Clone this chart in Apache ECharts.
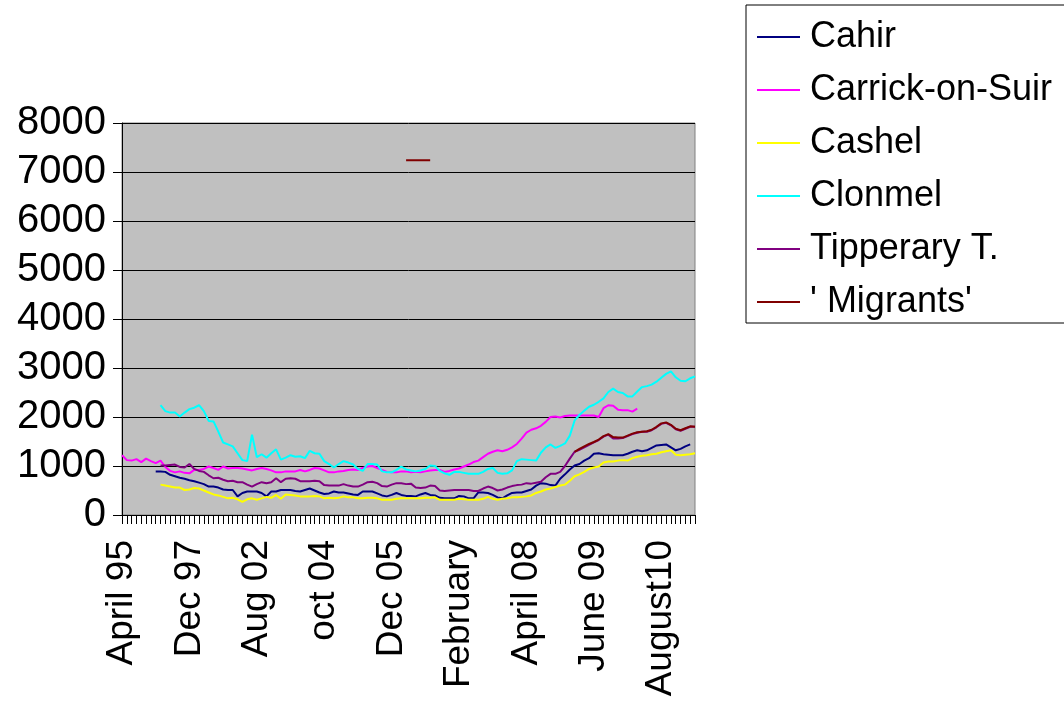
<!DOCTYPE html>
<html>
<head>
    <meta charset="utf-8">
    <title>Tipperary towns</title>
    <script src="https://cdn.jsdelivr.net/npm/echarts@6/dist/echarts.min.js"></script>
    <style>
        html, body { margin: 0; padding: 0; background: #fff; }
        #container { width: 1064px; height: 702px; }
    </style>
</head>
<body>
<div id="container"></div>
<script>
// labels shown on the category axis, one every 14 points
var tickLabels = ['April 95', 'Dec 97', 'Aug 02', 'oct 04', 'Dec 05', 'February', 'April 08', 'June 09', 'August10'];
var labelStep = 14;
var pointCount = 120;

var seriesNames = ['Cahir', 'Carrick-on-Suir', 'Cashel', 'Clonmel', 'Tipperary T.', "' Migrants'"];

var cahir = [
    null, null, null, null, null, null, null,
    890, 890, 880, 820, 790, 760, 740, 710, 690, 660, 630, 580, 580, 560,
    520, 510, 510, 380, 450, 480, 480, 480, 450, 380, 480, 480, 510, 510,
    510, 490, 480, 510, 540, 500, 460, 430, 440, 480, 460, 460, 440, 420,
    410, 480, 480, 480, 440, 400, 380, 410, 450, 410, 390,
    390, 380, 420, 450, 410, 400, 350, 340, 340, 340, 390, 380, 340, 340,
    460, 460, 450, 410, 360, 340, 400, 450, 460, 460, 490, 520, 600, 650,
    640, 610, 600, 740, 830, 930, 1010, 1040, 1110, 1160, 1250, 1260, 1240, 1230,
    1220, 1220, 1220, 1250, 1290, 1320, 1300, 1320, 1370, 1420, 1430, 1440, 1380, 1320,
    1350, 1400, 1440, null
];

var carrick = [
    1220, 1120, 1110, 1140, 1080, 1150, 1100, 1060, 1110, 980, 900, 870, 890, 860,
    850, 920, 920, 940, 990, 960, 920, 990, 950, 960, 960, 950, 930, 910,
    940, 960, 940, 910, 870, 870, 890, 890, 890, 920, 890, 920, 960, 950,
    910, 870, 870, 890, 900, 920, 930, 920, 960, 990, 1000, 960, 920, 880,
    870, 870, 890, 890,
    870, 880, 870, 890, 910, 920, 920, 880, 900, 930, 950, 990, 1030, 1080,
    1110, 1180, 1250, 1290, 1320, 1300, 1330, 1380, 1450, 1560, 1680, 1740, 1770, 1820,
    1900, 2000, 2010, 1990, 2020, 2030, 2030, 2030, 2030, 2030, 2030, 2000, 2180, 2240,
    2230, 2150, 2140, 2140, 2110, 2170,
    null, null, null, null, null, null, null, null, null, null, null, null
];

var cashel = [
    null, null, null, null, null, null, null, null,
    620, 600, 580, 560, 560, 510, 520, 550, 540, 500, 460, 420, 400, 370,
    340, 350, 320, 270, 320, 340, 310, 340, 370, 350, 410, 330, 420, 410,
    400, 380, 380, 380, 390, 380, 340, 350, 340, 350, 380, 360, 360, 340,
    340, 350, 350, 340, 310, 310, 310, 330, 340, 340,
    340, 340, 340, 350, 350, 360, 310, 310, 310, 310, 330, 320, 310, 310,
    310, 330, 370, 330, 310, 330, 340, 360, 360, 370, 380, 400, 450, 480,
    520, 540, 570, 600, 620, 700, 790, 830, 880, 940, 970, 990, 1070, 1090,
    1090, 1110, 1120, 1110, 1160, 1190, 1210, 1220, 1240, 1250, 1280, 1300, 1320, 1230,
    1220, 1230, 1240, 1260
];

var clonmel = [
    null, null, null, null, null, null, null, null,
    2240, 2120, 2090, 2090, 2010, 2090, 2160, 2190, 2240, 2120, 1920, 1910, 1700, 1480,
    1440, 1400, 1260, 1120, 1100, 1640, 1180, 1240, 1170, 1260, 1340, 1130, 1170, 1220,
    1190, 1200, 1160, 1310, 1260, 1250, 1100, 1040, 970, 1040, 1100, 1070, 1030, 940,
    900, 1040, 1040, 1030, 890, 870, 870, 920, 990, 930,
    910, 890, 910, 940, 1010, 1000, 900, 850, 820, 880, 880, 860, 840, 840,
    840, 880, 940, 960, 860, 840, 850, 910, 1100, 1140, 1130, 1120, 1110, 1270,
    1380, 1440, 1370, 1410, 1460, 1620, 1930, 2040, 2130, 2210, 2250, 2310, 2380, 2510,
    2580, 2510, 2490, 2420, 2420, 2520, 2610, 2630, 2660, 2720, 2800, 2880, 2930, 2810,
    2740, 2730, 2790, 2830
];

var tipperary = [
    null, null, null, null, null, null, null, null,
    1010, 1010, 1020, 1030, 980, 970, 1040, 940, 900, 880, 810, 750, 760, 720,
    690, 700, 670, 670, 620, 580, 630, 670, 650, 670, 750, 670, 740, 750,
    740, 690, 690, 690, 700, 690, 610, 600, 600, 600, 630, 600, 580, 580,
    620, 670, 680, 650, 590, 580, 620, 650, 650, 630,
    640, 560, 550, 560, 600, 590, 500, 490, 500, 510, 510, 510, 510, 490,
    490, 540, 580, 550, 500, 520, 560, 590, 610, 620, 650, 640, 660, 680,
    770, 840, 840, 880, 1000, 1150, 1290, 1330, 1380, 1430, 1480, 1530, 1600, 1640,
    1560, 1560, 1570, 1610, 1650, 1680, 1700, 1700, 1730, 1790, 1860, 1880, 1830, 1750,
    1720, 1760, 1800, 1800
];

var migrants = [
    null, null, null, null, null, null, null, null, null, null, null, null, null, null,
    null, null, null, null, null, null, null, null, null, null, null, null, null, null,
    null, null, null, null, null, null, null, null, null, null, null, null, null, null,
    null, null, null, null, null, null, null, null, null, null, null, null, null, null,
    null, null, null, 7240,
    7240, 7240, 7240, 7240, 7240, null, null, null, null, null, null, null, null, null,
    null, null, null, null, null, null, null, null, null, null, null, null, null, null,
    null, null, null, null, null, null, 1290, 1350, 1400, 1450, 1490, 1540, 1610, 1650,
    1590, 1580, 1580, 1620, 1660, 1690, 1700, 1710, 1740, 1800, 1870, 1890, 1840, 1760,
    1730, 1770, 1810, 1800
];

var lineColors = ['#000080', '#FF00FF', '#FFFF00', '#00FFFF', '#800080', '#800000'];

// category names: visible label every labelStep points, placeholder otherwise
var categories = [];
for (var i = 0; i < pointCount; i++) {
    categories.push(i % labelStep === 0 ? tickLabels[i / labelStep] : 'm' + i);
}

var font = 'Liberation Sans, Arial, sans-serif';
var allData = [cahir, carrick, cashel, clonmel, tipperary, migrants];

var series = [];
for (var s = 0; s < seriesNames.length; s++) {
    series.push({
        name: seriesNames[s],
        type: 'line',
        data: allData[s],
        symbol: 'none',
        connectNulls: false,
        lineStyle: { color: lineColors[s], width: 2 },
        itemStyle: { color: lineColors[s] }
    });
}

var myChart = echarts.init(document.getElementById('container'));
var option = {
    animation: false,
    backgroundColor: '#ffffff',
    grid: {
        left: 122,
        right: 369,
        top: 123,
        bottom: 187,
        show: true,
        backgroundColor: '#C0C0C0',
        borderColor: '#808080',
        borderWidth: 1
    },
    legend: {
        orient: 'vertical',
        left: 746,
        top: 5,
        padding: [14, 40, 3, 11],
        itemGap: 17,
        itemWidth: 43,
        itemHeight: 2,
        icon: 'rect',
        borderColor: '#000',
        borderWidth: 1,
        textStyle: {
            fontFamily: font,
            fontSize: 36,
            lineHeight: 36,
            color: '#000',
            padding: [0, 0, 0, 5]
        },
        data: seriesNames
    },
    xAxis: {
        type: 'category',
        data: categories,
        boundaryGap: false,
        axisLine: { lineStyle: { color: '#000', width: 1 } },
        axisTick: { interval: 0, length: 9, lineStyle: { color: '#000' } },
        axisLabel: {
            interval: labelStep - 1,
            rotate: 90,
            margin: 25,
            fontFamily: font,
            fontSize: 37,
            color: '#000'
        },
        splitLine: { show: false }
    },
    yAxis: {
        type: 'value',
        min: 0,
        max: 8000,
        interval: 1000,
        axisLine: { show: true, lineStyle: { color: '#000', width: 1 } },
        axisTick: { show: true, length: 9, lineStyle: { color: '#000' } },
        axisLabel: {
            margin: 16,
            fontFamily: font,
            fontSize: 40,
            color: '#000',
            formatter: function (v) { return String(v); }
        },
        splitLine: { show: true, lineStyle: { color: '#000', width: 1 } }
    },
    series: series
};
myChart.setOption(option);
</script>
</body>
</html>
